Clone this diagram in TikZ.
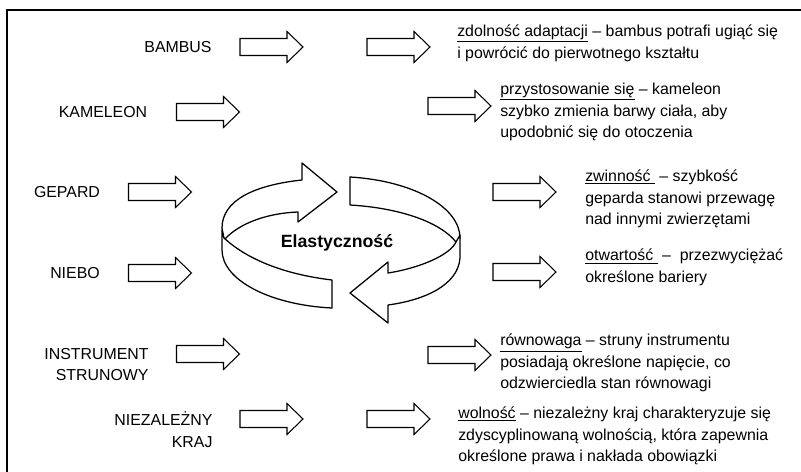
\documentclass[tikz,border=0pt]{standalone}
\usepackage{fontspec}
\setmainfont{Liberation Sans}

% strzalka blokowa o srodku w punkcie #1
\newcommand{\blok}[1]{\draw[blokl] ([shift={(-31.5,-8.5)}]#1) -- ++(47,0) -- ++(0,-7)
  -- ++(16,15.5) -- ++(-16,15.5) -- ++(0,-7) -- ++(-47,0) -- cycle;}

\begin{document}
\begin{tikzpicture}[x=0.025cm,y=-0.025cm,
    txt/.style={font=\fontsize{11.3}{15.4}\selectfont},
    opis/.style={txt,anchor=west,align=left,inner sep=0pt},
    blokl/.style={draw,line width=0.75pt,line join=miter},
    wstega/.style={draw,fill=white,line width=0.9pt,line join=round}]
    \useasboundingbox (0,0) rectangle (801,472);
    \draw[line width=0.8pt] (801,10) -- (7,10) -- (7,472);

    % lewa kolumna
    \node[txt] (bambus) at (178,47) {BAMBUS};
    \node[txt] (kameleon) at (103,112) {KAMELEON};
    \node[txt] (gepard) at (67,192) {GEPARD};
    \node[txt] (niebo) at (75,273) {NIEBO};
    \node[txt,align=right] (instr) at (96.5,364.5) {INSTRUMENT\\STRUNOWY};
    \node[txt,align=right] (kraj) at (163.5,429.5) {NIEZALEŻNY\\KRAJ};

    \coordinate (b1) at (271.5,47);
    \coordinate (k1) at (208,112);
    \coordinate (g1) at (160,192);
    \coordinate (n1) at (160,273);
    \coordinate (i1) at (208,354);
    \coordinate (z1) at (271.5,419);
    \blok{b1} \blok{k1} \blok{g1} \blok{n1} \blok{i1} \blok{z1}

    % prawa kolumna
    \coordinate (b2) at (398.5,47);
    \coordinate (k2) at (459.5,106);
    \coordinate (g2) at (524.5,192);
    \coordinate (n2) at (524.5,272);
    \coordinate (i2) at (459.5,355);
    \coordinate (z2) at (398.5,419);
    \blok{b2} \blok{k2} \blok{g2} \blok{n2} \blok{i2} \blok{z2}

    \node[opis] (tb) at (457,43) {\underline{zdolność adaptacji} – bambus potrafi ugiąć się\\
      i powrócić do pierwotnego kształtu};
    \node[opis] (tk) at (500,112) {\underline{przystosowanie się} – kameleon\\
      szybko zmienia barwy ciała, aby\\upodobnić się do otoczenia};
    \node[opis] (tg) at (585,199) {\underline{zwinność } – szybkość\\
      geparda stanowi przewagę\\nad innymi zwierzętami};
    \node[opis] (tn) at (585,267.5) {\underline{otwartość } –\ \ przezwyciężać\\
      określone bariery};
    \node[opis] (ti) at (500,363) {\underline{równowaga} – struny instrumentu\\
      posiadają określone napięcie, co\\odzwierciedla stan równowagi};
    \node[opis] (tz) at (458,436) {\underline{wolność} – niezależny kraj charakteryzuje się\\
      zdyscyplinowaną wolnością, która zapewnia\\określone prawa i nakłada obowiązki};

    % pierscien
    \draw[wstega] (350,177) .. controls (415,181) and (460,208) .. (460,238)
      -- (456,242) .. controls (440,222) and (400,208) .. (350,205) -- cycle;
    \draw[wstega] (302,180) .. controls (255,185) and (222,200) .. (222,228)
      -- (224,240) .. controls (240,222) and (270,213) .. (298,212)
      -- (298,222) -- (337,192) -- (302,163) -- cycle;
    \draw[wstega] (224,238) .. controls (250,262) and (290,275) .. (332,280)
      -- (332,308) .. controls (270,305) and (222,280) .. (222,250) -- (222,230) -- cycle;
    \draw[wstega] (460,235) -- (460,258) .. controls (458,285) and (425,300) .. (388,305)
      -- (388,323) -- (350,293) -- (388,262) -- (388,273)
      .. controls (420,268) and (450,255) .. (456,242) -- cycle;
    \node[font=\fontsize{12.6}{15}\selectfont\bfseries] (elast) at (337,243) {Elastyczność};
\end{tikzpicture}
\end{document}
